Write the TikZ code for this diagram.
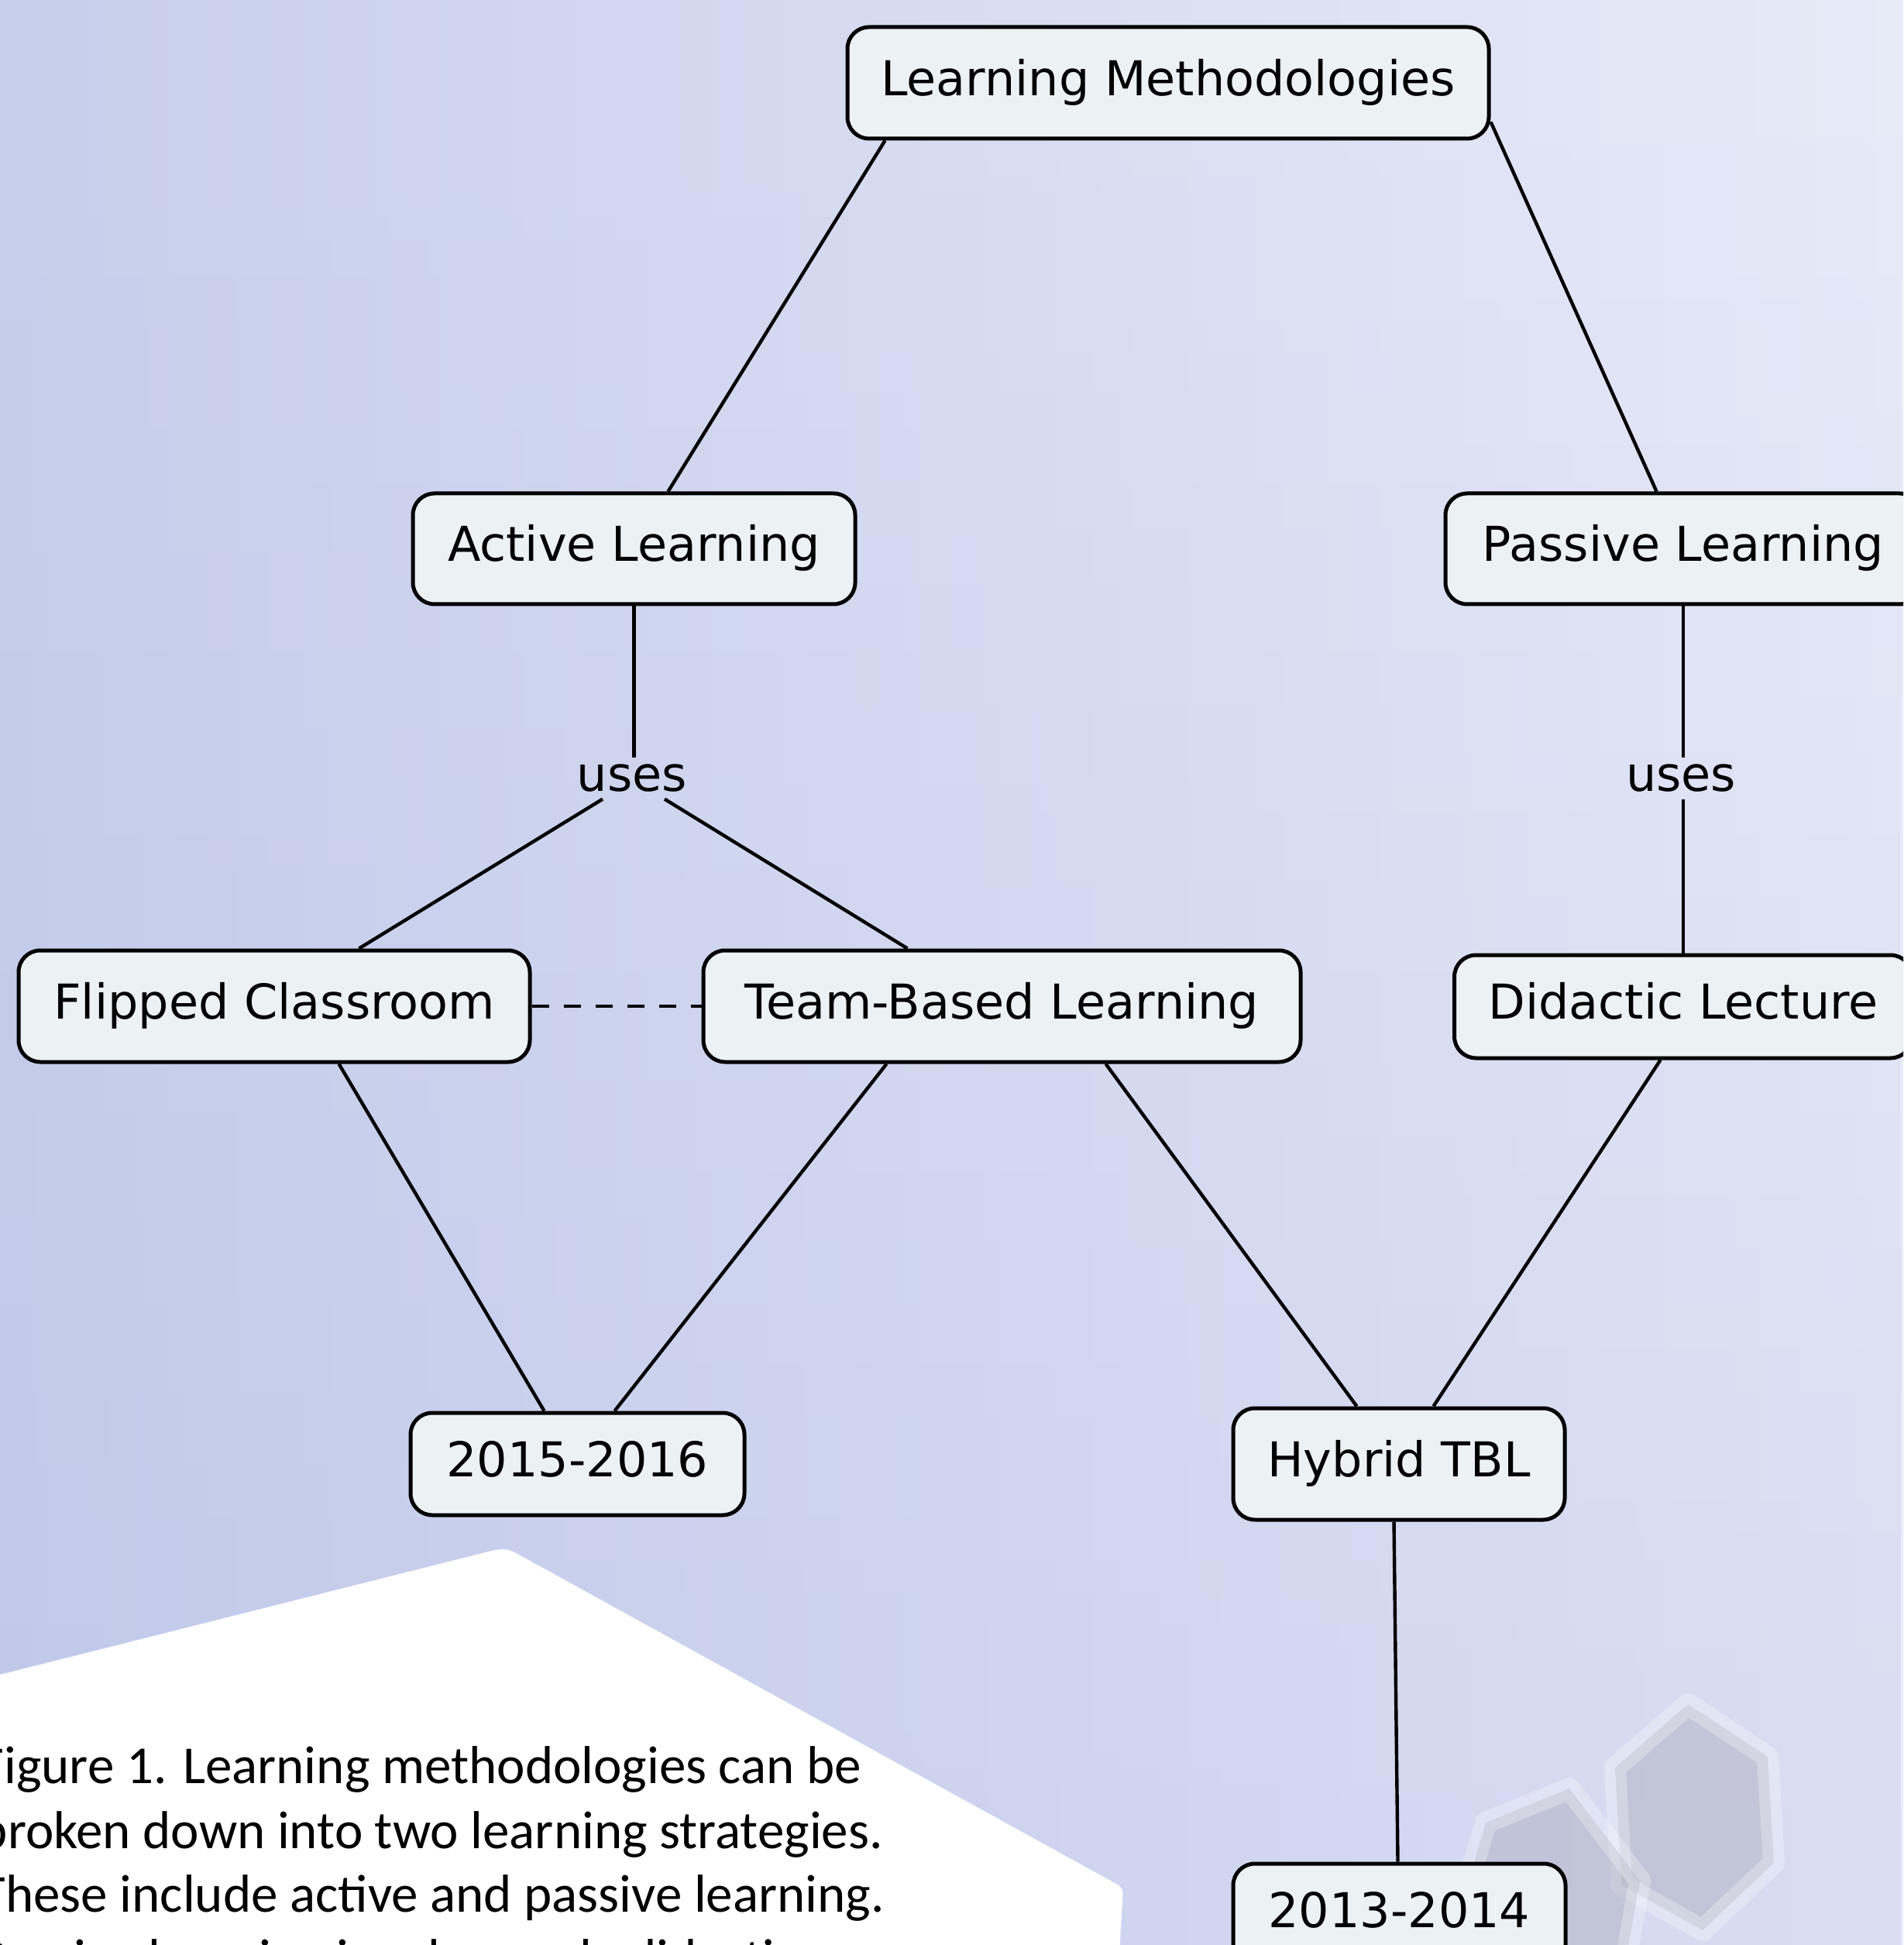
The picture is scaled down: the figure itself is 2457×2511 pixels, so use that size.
\documentclass[tikz,border=0pt]{standalone}
\usepackage{fontspec}
\setmainfont{DejaVu Sans}
\newfontfamily\capfont{Carlito}
\usetikzlibrary{calc,fadings}
\definecolor{bgTL}{HTML}{C8CFEC}
\definecolor{bgTR}{HTML}{E8EBF8}
\definecolor{bgBL}{HTML}{C0C9EB}
\definecolor{bgBR}{HTML}{DADDF2}
\definecolor{nodefill}{HTML}{ECF2F4}
\definecolor{hexfill}{HTML}{9A9AA8}
\begin{document}
\begin{tikzpicture}[x=0.25pt,y=-0.25pt,
  box/.style={draw=black, line width=1.25pt, rounded corners=7pt, fill=nodefill,
    inner sep=0pt, align=center, font=\fontsize{15.5pt}{18pt}\selectfont,
    text height=11.8pt, text depth=3.7pt},
  conn/.style={draw=black, line width=1.1pt},
  lbl/.style={inner xsep=0pt, inner ysep=2pt, font=\fontsize{15.5pt}{18pt}\selectfont},
  captext/.style={anchor=base west, inner sep=0pt, font=\capfont\fontsize{17.25pt}{20.75pt}\selectfont},
  hex/.style={fill=hexfill, fill opacity=0.33, draw=white, draw opacity=0.28, line width=7pt, line join=round}]
\useasboundingbox (0,0) rectangle (2457,2511);
\clip (0,0) rectangle (2457,2511);
% background
\shade[left color=bgTL, right color=bgTR] (0,0) rectangle (2457,2511);
\shade[left color=bgBL, right color=bgBR, path fading=north] (0,0) rectangle (2457,2511);
% white sheet
\fill[white, rounded corners=2pt] (-20,2167) -- (643,2000) -- (657,2000) -- (1450,2437) -- (1444,2540) -- (-20,2540) -- cycle;
% hexagons
\path[hex] (2179,2200) -- (2282,2268) -- (2290,2405) -- (2198,2492) -- (2093,2433) -- (2085,2282) -- cycle;
\path[hex] (2026,2309) -- (2117,2428) -- (2092,2570) -- (1985,2610) -- (1875,2500) -- (1918,2353) -- cycle;
% nodes
\node[box, minimum width=207pt, minimum height=36pt] (lm) at (1508,107) {Learning Methodologies};
\node[box, minimum width=142.75pt, minimum height=35.75pt] (al) at (818.5,708.5) {Active Learning};
\node[box, minimum width=153.5pt, minimum height=35.75pt] (pl) at (2173,708.5) {Passive Learning};
\node[box, minimum width=165pt, minimum height=36pt] (fc) at (354,1299) {Flipped Classroom};
\node[box, minimum width=192.75pt, minimum height=36pt] (tbl) at (1293.5,1299) {Team-Based Learning};
\node[box, minimum width=147.75pt, minimum height=33.25pt] (dl) at (2173,1299.5) {Didactic Lecture};
\node[box, minimum width=107.75pt, minimum height=33pt] (y15) at (745.5,1890) {2015-2016};
\node[box, minimum width=107pt, minimum height=36pt] (htbl) at (1806,1890) {Hybrid TBL};
\node[box, minimum width=107.25pt, minimum height=33pt] (y13) at (1806.5,2472) {2013-2014};
\node[lbl] (u1) at (816,1005) {uses};
\node[lbl] (u2) at (2170,1005) {uses};
% connectors
\draw[conn] ($(lm.south west)+(51,0)$) -- ($(al.north west)+(332,0)$);
\draw[conn] ($(lm.south east)+(0,-24)$) -- ($(pl.north west)+(275,0)$);
\draw[conn] (al.south) -- (al.south |- u1.north);
\draw[conn] ($(u1.south)+(-38,0)$) -- ($(fc.north west)+(442,0)$);
\draw[conn] ($(u1.south)+(42,0)$) -- ($(tbl.north west)+(266,0)$);
\draw[conn, dash pattern=on 5.5pt off 4.75pt] (fc.east) -- (tbl.west);
\draw[conn] ($(fc.south west)+(416,0)$) -- ($(y15.north west)+(175,0)$);
\draw[conn] ($(tbl.south west)+(239,0)$) -- ($(y15.north west)+(266,0)$);
\draw[conn] ($(tbl.south west)+(522,0)$) -- ($(htbl.north west)+(162,0)$);
\draw[conn] ($(dl.south west)+(268.5,0)$) -- ($(htbl.north west)+(261,0)$);
\draw[conn] ($(htbl.south west)+(210,0)$) -- ($(y13.north west)+(215,0)$);
\draw[conn] (pl.south) -- (pl.south |- u2.north);
\draw[conn] (dl.north |- u2.south) -- (dl.north);
% caption
\node[captext] (cap1) at (-27,2302) {Figure 1. Learning methodologies can be};
\node[captext] (cap2) at (-27,2386) {broken down into two learning strategies.};
\node[captext] (cap3) at (-27,2468) {These include active and passive learning.};
\node[captext] (cap4) at (-27,2551) {Passive learning involves only didactic};
\end{tikzpicture}
\end{document}
